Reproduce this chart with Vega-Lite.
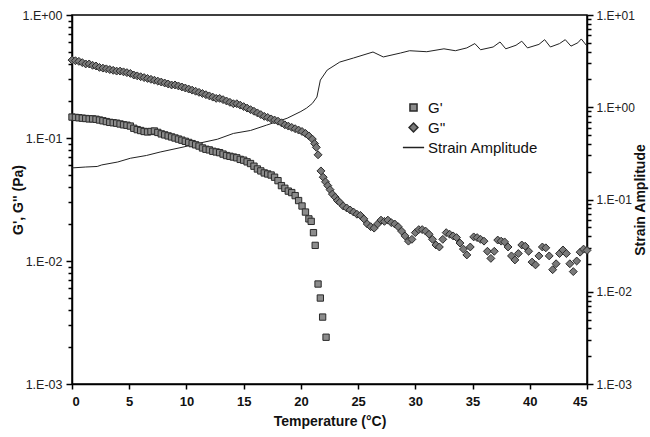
{
  "$schema": "https://vega.github.io/schema/vega-lite/v6.json",
  "width": 515,
  "height": 369,
  "autosize": "none",
  "padding": {"left": 72, "top": 15, "right": 63, "bottom": 53},
  "background": "white",
  "config": {
    "font": "Liberation Sans",
    "view": {"stroke": "#000", "strokeWidth": 1.5},
    "axis": {"grid": false, "domainColor": "#000", "domainWidth": 1.5, "tickColor": "#000", "tickWidth": 1.5, "labelColor": "#222", "titleColor": "#111"}
  },
  "datasets": {
    "mod": [
      {"T": 0.0, "G": 0.148, "series": "G'"}, {"T": 0.3, "G": 0.147, "series": "G'"}, {"T": 0.6, "G": 0.146, "series": "G'"}, {"T": 0.9, "G": 0.145, "series": "G'"},
      {"T": 1.2, "G": 0.144, "series": "G'"}, {"T": 1.5, "G": 0.143, "series": "G'"}, {"T": 1.8, "G": 0.143, "series": "G'"}, {"T": 2.1, "G": 0.142, "series": "G'"},
      {"T": 2.4, "G": 0.14, "series": "G'"}, {"T": 2.7, "G": 0.138, "series": "G'"}, {"T": 3.0, "G": 0.136, "series": "G'"}, {"T": 3.3, "G": 0.134, "series": "G'"},
      {"T": 3.6, "G": 0.133, "series": "G'"}, {"T": 3.9, "G": 0.132, "series": "G'"}, {"T": 4.2, "G": 0.13, "series": "G'"}, {"T": 4.5, "G": 0.128, "series": "G'"},
      {"T": 4.8, "G": 0.127, "series": "G'"}, {"T": 5.1, "G": 0.125, "series": "G'"}, {"T": 5.4, "G": 0.12, "series": "G'"}, {"T": 5.7, "G": 0.117, "series": "G'"},
      {"T": 6.0, "G": 0.115, "series": "G'"}, {"T": 6.3, "G": 0.113, "series": "G'"}, {"T": 6.6, "G": 0.112, "series": "G'"}, {"T": 6.9, "G": 0.113, "series": "G'"},
      {"T": 7.2, "G": 0.114, "series": "G'"}, {"T": 7.5, "G": 0.111, "series": "G'"}, {"T": 7.8, "G": 0.108, "series": "G'"}, {"T": 8.1, "G": 0.106, "series": "G'"},
      {"T": 8.4, "G": 0.104, "series": "G'"}, {"T": 8.7, "G": 0.102, "series": "G'"}, {"T": 9.0, "G": 0.1, "series": "G'"}, {"T": 9.3, "G": 0.098, "series": "G'"},
      {"T": 9.6, "G": 0.096, "series": "G'"}, {"T": 9.9, "G": 0.094, "series": "G'"}, {"T": 10.2, "G": 0.092, "series": "G'"}, {"T": 10.5, "G": 0.09, "series": "G'"},
      {"T": 10.8, "G": 0.088, "series": "G'"}, {"T": 11.1, "G": 0.086, "series": "G'"}, {"T": 11.4, "G": 0.083, "series": "G'"}, {"T": 11.7, "G": 0.081, "series": "G'"},
      {"T": 12.0, "G": 0.08, "series": "G'"}, {"T": 12.3, "G": 0.078, "series": "G'"}, {"T": 12.6, "G": 0.077, "series": "G'"}, {"T": 12.9, "G": 0.076, "series": "G'"},
      {"T": 13.2, "G": 0.074, "series": "G'"}, {"T": 13.5, "G": 0.072, "series": "G'"}, {"T": 13.8, "G": 0.071, "series": "G'"}, {"T": 14.1, "G": 0.07, "series": "G'"},
      {"T": 14.4, "G": 0.069, "series": "G'"}, {"T": 14.7, "G": 0.067, "series": "G'"}, {"T": 15.0, "G": 0.066, "series": "G'"}, {"T": 15.3, "G": 0.064, "series": "G'"},
      {"T": 15.6, "G": 0.062, "series": "G'"}, {"T": 15.9, "G": 0.059, "series": "G'"}, {"T": 16.2, "G": 0.056, "series": "G'"}, {"T": 16.5, "G": 0.054, "series": "G'"},
      {"T": 16.8, "G": 0.052, "series": "G'"}, {"T": 17.1, "G": 0.051, "series": "G'"}, {"T": 17.4, "G": 0.05, "series": "G'"}, {"T": 17.7, "G": 0.048, "series": "G'"},
      {"T": 18.0, "G": 0.045, "series": "G'"}, {"T": 18.3, "G": 0.041, "series": "G'"}, {"T": 18.6, "G": 0.039, "series": "G'"}, {"T": 18.9, "G": 0.037, "series": "G'"},
      {"T": 19.2, "G": 0.036, "series": "G'"}, {"T": 19.5, "G": 0.034, "series": "G'"}, {"T": 19.8, "G": 0.031, "series": "G'"}, {"T": 20.1, "G": 0.028, "series": "G'"},
      {"T": 20.4, "G": 0.025, "series": "G'"}, {"T": 20.7, "G": 0.022, "series": "G'"}, {"T": 20.9, "G": 0.021, "series": "G'"}, {"T": 21.1, "G": 0.017, "series": "G'"},
      {"T": 21.25, "G": 0.0134, "series": "G'"}, {"T": 21.5, "G": 0.0065, "series": "G'"}, {"T": 21.7, "G": 0.005, "series": "G'"}, {"T": 21.9, "G": 0.0035, "series": "G'"},
      {"T": 22.2, "G": 0.0024, "series": "G'"},
      {"T": 0.0, "G": 0.43, "series": "G''"}, {"T": 0.3, "G": 0.425, "series": "G''"}, {"T": 0.6, "G": 0.42, "series": "G''"}, {"T": 0.9, "G": 0.41, "series": "G''"},
      {"T": 1.2, "G": 0.4, "series": "G''"}, {"T": 1.5, "G": 0.4, "series": "G''"}, {"T": 1.8, "G": 0.39, "series": "G''"}, {"T": 2.1, "G": 0.385, "series": "G''"},
      {"T": 2.4, "G": 0.375, "series": "G''"}, {"T": 2.7, "G": 0.37, "series": "G''"}, {"T": 3.0, "G": 0.365, "series": "G''"}, {"T": 3.3, "G": 0.36, "series": "G''"},
      {"T": 3.6, "G": 0.355, "series": "G''"}, {"T": 3.9, "G": 0.35, "series": "G''"}, {"T": 4.2, "G": 0.35, "series": "G''"}, {"T": 4.5, "G": 0.345, "series": "G''"},
      {"T": 4.8, "G": 0.34, "series": "G''"}, {"T": 5.1, "G": 0.335, "series": "G''"}, {"T": 5.4, "G": 0.325, "series": "G''"}, {"T": 5.7, "G": 0.32, "series": "G''"},
      {"T": 6.0, "G": 0.315, "series": "G''"}, {"T": 6.3, "G": 0.31, "series": "G''"}, {"T": 6.6, "G": 0.305, "series": "G''"}, {"T": 6.9, "G": 0.3, "series": "G''"},
      {"T": 7.2, "G": 0.295, "series": "G''"}, {"T": 7.5, "G": 0.29, "series": "G''"}, {"T": 7.8, "G": 0.285, "series": "G''"}, {"T": 8.1, "G": 0.28, "series": "G''"},
      {"T": 8.4, "G": 0.275, "series": "G''"}, {"T": 8.7, "G": 0.27, "series": "G''"}, {"T": 9.0, "G": 0.27, "series": "G''"}, {"T": 9.3, "G": 0.265, "series": "G''"},
      {"T": 9.6, "G": 0.26, "series": "G''"}, {"T": 9.9, "G": 0.255, "series": "G''"}, {"T": 10.2, "G": 0.25, "series": "G''"}, {"T": 10.5, "G": 0.245, "series": "G''"},
      {"T": 10.8, "G": 0.24, "series": "G''"}, {"T": 11.1, "G": 0.235, "series": "G''"}, {"T": 11.4, "G": 0.23, "series": "G''"}, {"T": 11.7, "G": 0.225, "series": "G''"},
      {"T": 12.0, "G": 0.22, "series": "G''"}, {"T": 12.3, "G": 0.215, "series": "G''"}, {"T": 12.6, "G": 0.21, "series": "G''"}, {"T": 12.9, "G": 0.21, "series": "G''"},
      {"T": 13.2, "G": 0.205, "series": "G''"}, {"T": 13.5, "G": 0.2, "series": "G''"}, {"T": 13.8, "G": 0.195, "series": "G''"}, {"T": 14.1, "G": 0.19, "series": "G''"},
      {"T": 14.4, "G": 0.19, "series": "G''"}, {"T": 14.7, "G": 0.185, "series": "G''"}, {"T": 15.0, "G": 0.18, "series": "G''"}, {"T": 15.3, "G": 0.175, "series": "G''"},
      {"T": 15.6, "G": 0.17, "series": "G''"}, {"T": 15.9, "G": 0.165, "series": "G''"}, {"T": 16.2, "G": 0.16, "series": "G''"}, {"T": 16.5, "G": 0.155, "series": "G''"},
      {"T": 16.8, "G": 0.15, "series": "G''"}, {"T": 17.1, "G": 0.147, "series": "G''"}, {"T": 17.4, "G": 0.143, "series": "G''"}, {"T": 17.7, "G": 0.14, "series": "G''"},
      {"T": 18.0, "G": 0.137, "series": "G''"}, {"T": 18.3, "G": 0.133, "series": "G''"}, {"T": 18.6, "G": 0.128, "series": "G''"}, {"T": 18.9, "G": 0.125, "series": "G''"},
      {"T": 19.2, "G": 0.122, "series": "G''"}, {"T": 19.5, "G": 0.119, "series": "G''"}, {"T": 19.8, "G": 0.116, "series": "G''"}, {"T": 20.1, "G": 0.113, "series": "G''"},
      {"T": 20.4, "G": 0.109, "series": "G''"}, {"T": 20.7, "G": 0.104, "series": "G''"}, {"T": 21.0, "G": 0.098, "series": "G''"}, {"T": 21.2, "G": 0.09, "series": "G''"},
      {"T": 21.35, "G": 0.084, "series": "G''"}, {"T": 21.5, "G": 0.073, "series": "G''"}, {"T": 21.75, "G": 0.054, "series": "G''"}, {"T": 21.95, "G": 0.048, "series": "G''"},
      {"T": 22.15, "G": 0.044, "series": "G''"}, {"T": 22.35, "G": 0.041, "series": "G''"}, {"T": 22.55, "G": 0.038, "series": "G''"}, {"T": 22.75, "G": 0.035, "series": "G''"},
      {"T": 23.0, "G": 0.033, "series": "G''"}, {"T": 23.2, "G": 0.031, "series": "G''"}, {"T": 23.4, "G": 0.03, "series": "G''"}, {"T": 23.7, "G": 0.028, "series": "G''"},
      {"T": 24.0, "G": 0.027, "series": "G''"}, {"T": 24.3, "G": 0.026, "series": "G''"}, {"T": 24.6, "G": 0.025, "series": "G''"}, {"T": 24.9, "G": 0.024, "series": "G''"},
      {"T": 25.2, "G": 0.0235, "series": "G''"}, {"T": 25.5, "G": 0.022, "series": "G''"}, {"T": 25.8, "G": 0.02, "series": "G''"}, {"T": 26.1, "G": 0.019, "series": "G''"},
      {"T": 26.4, "G": 0.0185, "series": "G''"}, {"T": 26.7, "G": 0.02, "series": "G''"}, {"T": 27.0, "G": 0.0215, "series": "G''"}, {"T": 27.3, "G": 0.021, "series": "G''"},
      {"T": 27.6, "G": 0.0215, "series": "G''"}, {"T": 27.9, "G": 0.0205, "series": "G''"}, {"T": 28.2, "G": 0.02, "series": "G''"}, {"T": 28.5, "G": 0.019, "series": "G''"},
      {"T": 28.8, "G": 0.0175, "series": "G''"}, {"T": 29.1, "G": 0.016, "series": "G''"}, {"T": 29.4, "G": 0.0145, "series": "G''"}, {"T": 29.7, "G": 0.015, "series": "G''"},
      {"T": 30.0, "G": 0.017, "series": "G''"}, {"T": 30.3, "G": 0.018, "series": "G''"}, {"T": 30.6, "G": 0.018, "series": "G''"}, {"T": 30.9, "G": 0.0175, "series": "G''"},
      {"T": 31.2, "G": 0.0165, "series": "G''"}, {"T": 31.5, "G": 0.015, "series": "G''"}, {"T": 31.8, "G": 0.0135, "series": "G''"}, {"T": 32.1, "G": 0.013, "series": "G''"},
      {"T": 32.4, "G": 0.015, "series": "G''"}, {"T": 32.7, "G": 0.017, "series": "G''"}, {"T": 33.0, "G": 0.0165, "series": "G''"}, {"T": 33.3, "G": 0.016, "series": "G''"},
      {"T": 33.6, "G": 0.0155, "series": "G''"}, {"T": 33.9, "G": 0.014, "series": "G''"}, {"T": 34.2, "G": 0.0125, "series": "G''"}, {"T": 34.5, "G": 0.0112, "series": "G''"},
      {"T": 34.8, "G": 0.013, "series": "G''"}, {"T": 35.1, "G": 0.0157, "series": "G''"}, {"T": 35.4, "G": 0.0155, "series": "G''"}, {"T": 35.7, "G": 0.015, "series": "G''"},
      {"T": 36.0, "G": 0.0145, "series": "G''"}, {"T": 36.3, "G": 0.012, "series": "G''"}, {"T": 36.6, "G": 0.0105, "series": "G''"}, {"T": 36.9, "G": 0.012, "series": "G''"},
      {"T": 37.2, "G": 0.0148, "series": "G''"}, {"T": 37.5, "G": 0.0145, "series": "G''"}, {"T": 37.8, "G": 0.0143, "series": "G''"}, {"T": 38.1, "G": 0.013, "series": "G''"},
      {"T": 38.4, "G": 0.011, "series": "G''"}, {"T": 38.7, "G": 0.0102, "series": "G''"}, {"T": 39.0, "G": 0.0115, "series": "G''"}, {"T": 39.3, "G": 0.0135, "series": "G''"},
      {"T": 39.6, "G": 0.0132, "series": "G''"}, {"T": 39.9, "G": 0.012, "series": "G''"}, {"T": 40.2, "G": 0.0098, "series": "G''"}, {"T": 40.5, "G": 0.0093, "series": "G''"},
      {"T": 40.8, "G": 0.011, "series": "G''"}, {"T": 41.1, "G": 0.013, "series": "G''"}, {"T": 41.4, "G": 0.0128, "series": "G''"}, {"T": 41.7, "G": 0.011, "series": "G''"},
      {"T": 42.0, "G": 0.0085, "series": "G''"}, {"T": 42.3, "G": 0.0095, "series": "G''"}, {"T": 42.6, "G": 0.0115, "series": "G''"}, {"T": 42.9, "G": 0.0123, "series": "G''"},
      {"T": 43.2, "G": 0.0115, "series": "G''"}, {"T": 43.5, "G": 0.0095, "series": "G''"}, {"T": 43.8, "G": 0.0082, "series": "G''"}, {"T": 44.1, "G": 0.01, "series": "G''"},
      {"T": 44.4, "G": 0.0118, "series": "G''"}, {"T": 44.7, "G": 0.0125, "series": "G''"}, {"T": 45.0, "G": 0.0122, "series": "G''"}
    ],
    "strain": [
      {"T": 0.0, "A": 0.22}, {"T": 1.2, "A": 0.225}, {"T": 2.2, "A": 0.228}, {"T": 2.6, "A": 0.237}, {"T": 4.0, "A": 0.255},
      {"T": 5.1, "A": 0.28}, {"T": 6.5, "A": 0.30}, {"T": 7.7, "A": 0.327}, {"T": 9.7, "A": 0.37}, {"T": 11.2, "A": 0.41},
      {"T": 12.7, "A": 0.45}, {"T": 14.1, "A": 0.52}, {"T": 15.6, "A": 0.56}, {"T": 17.0, "A": 0.64}, {"T": 18.8, "A": 0.76},
      {"T": 20.0, "A": 0.9}, {"T": 20.5, "A": 0.98}, {"T": 21.0, "A": 1.1}, {"T": 21.4, "A": 1.29}, {"T": 21.7, "A": 1.97},
      {"T": 22.3, "A": 2.53}, {"T": 23.4, "A": 3.09}, {"T": 24.6, "A": 3.42}, {"T": 26.3, "A": 3.97}, {"T": 27.2, "A": 3.51},
      {"T": 28.7, "A": 3.87}, {"T": 29.5, "A": 4.1}, {"T": 31.0, "A": 4.0}, {"T": 32.5, "A": 4.3}, {"T": 33.5, "A": 4.1},
      {"T": 34.5, "A": 4.4}, {"T": 35.2, "A": 4.9}, {"T": 35.7, "A": 4.2}, {"T": 36.8, "A": 4.5}, {"T": 37.4, "A": 5.1},
      {"T": 37.9, "A": 4.3}, {"T": 38.8, "A": 4.7}, {"T": 39.3, "A": 5.2}, {"T": 39.8, "A": 4.4}, {"T": 40.8, "A": 4.8},
      {"T": 41.3, "A": 5.4}, {"T": 41.8, "A": 4.5}, {"T": 42.6, "A": 4.9}, {"T": 43.1, "A": 5.4}, {"T": 43.6, "A": 4.6},
      {"T": 44.2, "A": 5.0}, {"T": 44.5, "A": 5.5}, {"T": 45.0, "A": 4.6}
    ]
  },
  "layer": [
    {
      "data": {"name": "strain"},
      "mark": {"type": "line", "color": "#222", "strokeWidth": 1},
      "encoding": {
        "x": {"field": "T", "type": "quantitative", "scale": {"domain": [0, 45], "nice": false, "zero": false}},
        "y": {
          "field": "A", "type": "quantitative",
          "scale": {"type": "log", "domain": [0.001, 10], "nice": false},
          "axis": {
            "orient": "right",
            "title": "Strain Amplitude",
            "titleAngle": 270,
            "titleFontSize": 14, "titleFontWeight": "bold",
            "titleX": 53, "titleY": 184.5, "titleBaseline": "middle", "titleAlign": "center",
            "values": [0.001,0.002,0.003,0.004,0.005,0.006,0.007,0.008,0.009,0.01,0.02,0.03,0.04,0.05,0.06,0.07,0.08,0.09,0.1,0.2,0.3,0.4,0.5,0.6,0.7,0.8,0.9,1,2,3,4,5,6,7,8,9,10],
            "labelExpr": "abs(log(datum.value)/LN10 - round(log(datum.value)/LN10)) < 0.01 ? '1.E' + (datum.value >= 1 ? '+' : '-') + '0' + abs(round(log(datum.value)/LN10)) : ''",
            "labelOverlap": false,
            "labelFontSize": 12,
            "labelPadding": 3,
            "tickSize": {"condition": {"test": "abs(log(datum.value)/LN10 - round(log(datum.value)/LN10)) < 0.01", "value": 6}, "value": 4}
          }
        }
      }
    },
    {
      "data": {"name": "mod"},
      "mark": {"type": "point", "filled": true, "strokeWidth": 1, "size": 40, "opacity": 1},
      "encoding": {
        "x": {
          "field": "T", "type": "quantitative",
          "scale": {"domain": [0, 45], "nice": false, "zero": false},
          "axis": {"title": "Temperature (°C)", "values": [0,5,10,15,20,25,30,35,40,45], "labelFontSize": 13, "labelFontWeight": "bold", "labelColor": "#111", "titleFontSize": 14, "titleFontWeight": "bold", "tickSize": 5, "labelPadding": 6, "titlePadding": 6}
        },
        "y": {
          "field": "G", "type": "quantitative",
          "scale": {"type": "log", "domain": [0.001, 1], "nice": false},
          "axis": {
            "orient": "left",
            "title": "G', G'' (Pa)",
            "titleFontSize": 14, "titleFontWeight": "bold",
            "titleX": -54, "titleY": 184.5, "titleBaseline": "middle", "titleAlign": "center",
            "values": [0.001,0.002,0.003,0.004,0.005,0.006,0.007,0.008,0.009,0.01,0.02,0.03,0.04,0.05,0.06,0.07,0.08,0.09,0.1,0.2,0.3,0.4,0.5,0.6,0.7,0.8,0.9,1],
            "labelExpr": "abs(log(datum.value)/LN10 - round(log(datum.value)/LN10)) < 0.01 ? '1.E' + (datum.value >= 1 ? '+' : '-') + '0' + abs(round(log(datum.value)/LN10)) : ''",
            "labelOverlap": false,
            "labelFontSize": 12.5,
            "labelPadding": 4,
            "tickSize": {"condition": {"test": "abs(log(datum.value)/LN10 - round(log(datum.value)/LN10)) < 0.01", "value": 6}, "value": 4}
          }
        },
        "fill": {
          "field": "series", "type": "nominal",
          "scale": {"domain": ["G'", "G''", "Strain Amplitude"], "range": ["#8c8c8c", "#7a7a7a", "#ffffff"]},
          "legend": {"orient": "none", "legendX": 334, "legendY": 85, "title": null, "labelFontSize": 15, "labelColor": "#111", "symbolSize": 50, "labelOffset": 7, "rowPadding": 4}
        },
        "stroke": {
          "field": "series", "type": "nominal",
          "scale": {"domain": ["G'", "G''", "Strain Amplitude"], "range": ["#2a2a2a", "#2a2a2a", "#222222"]},
          "legend": {"orient": "none", "legendX": 334, "legendY": 85, "title": null, "labelFontSize": 15, "labelColor": "#111", "symbolSize": 50, "labelOffset": 7, "rowPadding": 4}
        },
        "shape": {
          "field": "series", "type": "nominal",
          "scale": {"domain": ["G'", "G''", "Strain Amplitude"], "range": ["M-1,-1H1V1H-1Z", "M0,-1.25L1.25,0L0,1.25L-1.25,0Z", "M-3,0H3"]},
          "legend": {"orient": "none", "legendX": 334, "legendY": 85, "title": null, "labelFontSize": 15, "labelColor": "#111", "symbolSize": 50, "labelOffset": 7, "rowPadding": 4}
        }
      }
    }
  ],
  "resolve": {"scale": {"y": "independent"}}
}
